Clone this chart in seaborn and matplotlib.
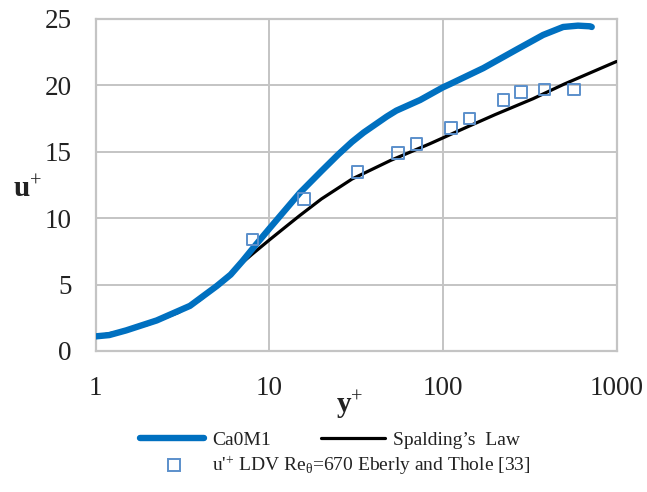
import numpy as np
import pandas as pd
import matplotlib
matplotlib.use("Agg")
import matplotlib.pyplot as plt
import seaborn as sns
from matplotlib.ticker import FixedLocator, NullFormatter, FuncFormatter
from matplotlib.lines import Line2D

# Ca0M1 (simulation)
ca_y = [1.0, 1.2, 1.5, 2.25, 3.5, 5.0, 6.0, 7.0, 8.5, 10, 13, 15, 20, 25, 30, 35, 47.5, 54, 74, 84, 100, 110, 171, 266, 378, 493, 600, 703, 720]
ca_u = [1.1, 1.2, 1.55, 2.3, 3.4, 4.9, 5.75, 6.75, 8.1, 9.2, 10.95, 11.9, 13.55, 14.8, 15.75, 16.45, 17.65, 18.1, 18.9, 19.3, 19.85, 20.1, 21.3, 22.7, 23.8, 24.4, 24.5, 24.45, 24.4]

# Spalding's law
sp_y = [1, 1.5, 2, 3, 4, 5, 6, 7, 8, 10, 13, 15, 20, 30, 50, 84, 137, 200, 331, 500, 1000]
sp_u = [1.1, 1.55, 2.0, 2.9, 3.85, 4.9, 5.75, 6.65, 7.3, 8.35, 9.55, 10.2, 11.45, 12.95, 14.35, 15.6, 16.85, 17.8, 19.0, 20.1, 21.8]

# LDV data Eberly and Thole
ldv_y = [8.0, 15.9, 32.2, 55, 70.7, 111, 142.6, 224, 282, 384, 569]
ldv_u = [8.4, 11.45, 13.5, 14.9, 15.6, 16.8, 17.5, 18.9, 19.5, 19.7, 19.7]

x_ticks = [1, 10, 100, 1000]
y_ticks = [0, 5, 10, 15, 20, 25]

labels = ["Ca0M1", "Spalding\u2019s  Law", "u'$^{+}$ LDV Re$_{\\mathrm{\u03b8}}$=670 Eberly and Thole [33]"]

sns.set_theme(style="white")
plt.rcParams['font.family'] = ['Liberation Serif', 'DejaVu Serif']
plt.rcParams['mathtext.fontset'] = 'custom'
plt.rcParams['mathtext.rm'] = 'Liberation Serif'
plt.rcParams['mathtext.it'] = 'Liberation Serif:italic'
plt.rcParams['mathtext.bf'] = 'Liberation Serif:bold'

fig = plt.figure(figsize=(6.47, 4.92), dpi=100)
ax = fig.add_axes([95.5/647, 1-351/492, (616.5-95.5)/647, 332/492])

blue = "#0070c0"
sq = "#5b8fcb"
grid_c = "#c4c4c4"

df_ca = pd.DataFrame({"y": ca_y, "u": ca_u})
df_sp = pd.DataFrame({"y": sp_y, "u": sp_u})
df_ldv = pd.DataFrame({"y": ldv_y, "u": ldv_u})

sns.lineplot(data=df_sp, x="y", y="u", ax=ax, color="black", lw=2.3, sort=False, zorder=3)
sns.lineplot(data=df_ca, x="y", y="u", ax=ax, color=blue, lw=4.6, sort=False, zorder=4,
             solid_capstyle="round", solid_joinstyle="round")
sns.scatterplot(data=df_ldv, x="y", y="u", ax=ax, marker="s", s=70, facecolor="none",
                edgecolor=sq, linewidth=1.4, zorder=5)

ax.set_xscale("log")
ax.set_xlim(1, 1000)
ax.set_ylim(0, 25)
ax.set_xticks(x_ticks)
ax.set_yticks(y_ticks)
ax.xaxis.set_major_formatter(FuncFormatter(lambda v, p: f"{int(round(v))}"))
ax.xaxis.set_minor_locator(FixedLocator([m * d for d in (1, 10, 100) for m in range(2, 10)]))
ax.xaxis.set_minor_formatter(NullFormatter())
ax.yaxis.set_minor_locator(FixedLocator(list(range(0, 26))))
ax.grid(True, which="major", color=grid_c, lw=1.4)
ax.tick_params(which="major", length=0, labelsize=19.5, colors="#222222")
ax.tick_params(axis="y", which="major", pad=17)
ax.tick_params(axis="x", which="major", pad=18)
ax.tick_params(which="minor", direction="in", length=6, width=1.1, color=grid_c)
for s in ax.spines.values():
    s.set_color(grid_c)
    s.set_linewidth(1.6)

ax.set_xlabel("")
ax.set_ylabel("")
fig.text(27/647, 1-190/492, r"$\mathbf{u}^{+}$", fontsize=21, ha="center", va="center", color="#222222")
fig.text(350/647, 1-405/492, r"$\mathbf{y}^{+}$", fontsize=21, ha="center", va="center", color="#222222")

h1 = [Line2D([], [], color=blue, lw=4.6), Line2D([], [], color="black", lw=2.3)]
leg1 = fig.legend(h1, labels[:2], loc="center", bbox_to_anchor=(330/647, 1-440/492), ncol=2,
                  frameon=False, fontsize=14, handlelength=3.3, handletextpad=0.4, columnspacing=2.6,
                  borderpad=0, borderaxespad=0)
h2 = [Line2D([], [], ls="none", marker="s", markersize=8, markerfacecolor="none",
             markeredgecolor=sq, markeredgewidth=1.4)]
leg2 = fig.legend(h2, labels[2:], loc="center", bbox_to_anchor=(345/647, 1-466/492),
                  frameon=False, fontsize=14, handlelength=1.5, handletextpad=1.2,
                  borderpad=0, borderaxespad=0)
for t in list(leg1.get_texts()) + list(leg2.get_texts()):
    t.set_color("#222222")

fig.savefig("out.png", dpi=100)
